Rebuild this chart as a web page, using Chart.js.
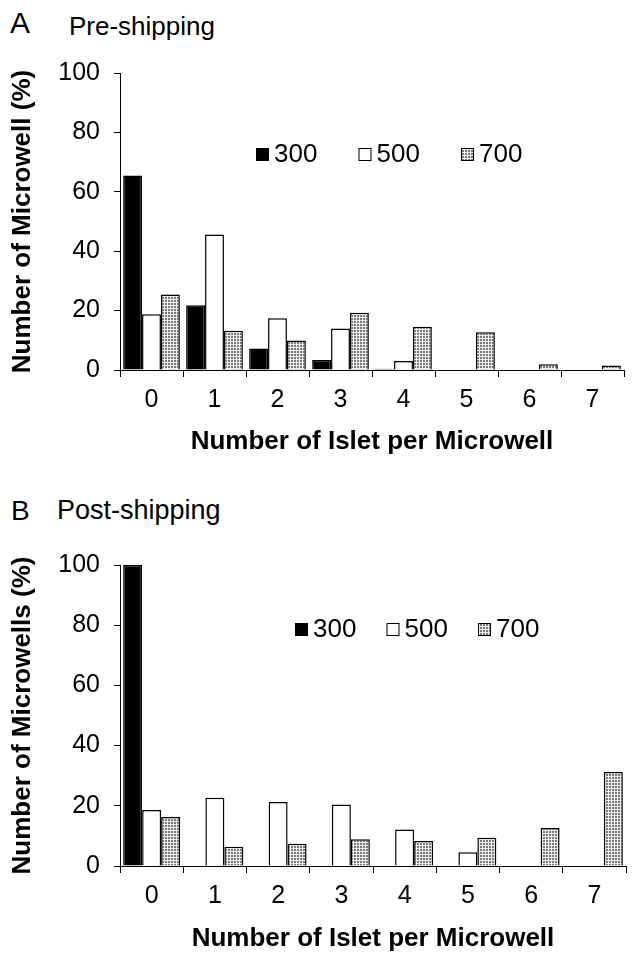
<!DOCTYPE html>
<html>
<head>
<meta charset="utf-8">
<script src="https://cdn.jsdelivr.net/npm/chart.js@4"></script>
<style>
  body { margin: 0; background: #fff; }
  #page { position: relative; width: 638px; height: 954px; font-family: "Liberation Sans", Arial, sans-serif; color: #000; }
  .box { position: absolute; left: 0; width: 638px; height: 477px; }
  .lbl { position: absolute; white-space: nowrap; }
</style>
</head>
<body>
<div id="page">
  <div class="lbl" style="left:10px; top:8px; font-size:30px; line-height:30px;">A</div>
  <div class="lbl" style="left:69px; top:13px; font-size:26px; line-height:26px;">Pre-shipping</div>
  <div class="lbl" style="left:11px; top:497px; font-size:28px; line-height:28px;">B</div>
  <div class="lbl" style="left:57px; top:497px; font-size:27px; line-height:27px;">Post-shipping</div>
  <div class="box" style="top:0;"><canvas id="chartA" width="638" height="477"></canvas></div>
  <div class="box" style="top:477px;"><canvas id="chartB" width="638" height="477"></canvas></div>
</div>
<script>
// Number of islets per microwell
const categories = ['0', '1', '2', '3', '4', '5', '6', '7'];
const seriesNames = ['300', '500', '700'];

// Pre-shipping (%)
const pre300 = [65.5, 21.8, 7.2, 3.4, 0.4, 0, 0, 0];
const pre500 = [18.8, 45.6, 17.4, 14.0, 3.0, 0, 0, 0];
const pre700 = [25.4, 13.2, 9.9, 19.3, 14.6, 12.7, 1.9, 1.5];

// Post-shipping (%)
const post300 = [100, 0, 0, 0, 0, 0, 0, 0];
const post500 = [18.6, 22.7, 21.3, 20.4, 12.1, 4.6, 0, 0];
const post700 = [16.3, 6.4, 7.4, 8.9, 8.3, 9.4, 12.6, 31.2];

const yMin = 0, yMax = 100, yStep = 20;

const FONT = '"Liberation Sans", Arial, sans-serif';

function dotPattern(ctx) {
    const c = document.createElement('canvas');
    c.width = 3; c.height = 3;
    const g = c.getContext('2d');
    g.fillStyle = '#eeeeee';
    g.fillRect(0, 0, 3, 3);
    g.fillStyle = '#7a7a7a';
    g.fillRect(0, 0, 2, 2);
    return ctx.createPattern(c, 'repeat');
}

// legend drawn inside the plot area
const insideLegend = {
    id: 'insideLegend',
    afterDraw(chart, args, opts) {
        const { ctx, chartArea } = chart;
        ctx.save();
        ctx.font = '26px ' + FONT;
        ctx.textBaseline = 'middle';
        chart.data.datasets.forEach((ds, i) => {
            const x = chartArea.left + opts.x + i * opts.step;
            const y = chartArea.top + opts.y;
            ctx.fillStyle = ds.backgroundColor;
            ctx.fillRect(x, y - 6, 13, 13);
            ctx.strokeStyle = '#000';
            ctx.lineWidth = 1;
            ctx.strokeRect(x + 0.5, y - 5.5, 12, 12);
            ctx.fillStyle = '#000';
            ctx.fillText(ds.label, x + 18, y + 1);
        });
        ctx.restore();
    }
};

function makeChart(id, values, cfg) {
    const ctx = document.getElementById(id).getContext('2d');
    const fills = ['#000000', '#ffffff', dotPattern(ctx)];
    return new Chart(ctx, {
        type: 'bar',
        data: {
            labels: categories,
            datasets: values.map((v, i) => ({
                label: seriesNames[i],
                data: v,
                backgroundColor: fills[i],
                borderColor: '#000',
                borderWidth: 1.5,
                borderSkipped: 'start'
            }))
        },
        options: {
            responsive: false,
            animation: false,
            devicePixelRatio: 1,
            categoryPercentage: 0.9,
            barPercentage: 1.0,
            layout: { padding: { top: cfg.top, right: cfg.right, left: 0, bottom: 0 } },
            plugins: {
                legend: { display: false },
                tooltip: { enabled: false },
                insideLegend: cfg.legend
            },
            scales: {
                x: {
                    grid: { display: true, drawOnChartArea: false, drawTicks: true, tickLength: 7, color: '#000', lineWidth: 1, offset: true },
                    border: { display: true, color: '#000', width: 1 },
                    ticks: { color: '#000', font: { family: FONT, size: 25 }, padding: 8, maxRotation: 0 },
                    title: { display: true, text: 'Number of Islet per Microwell', color: '#000',
                             font: { family: FONT, size: 26, weight: 'bold' }, padding: { top: 0, bottom: cfg.xTitlePad } },
                    afterFit: s => { s.height = cfg.xHeight; }
                },
                y: {
                    min: yMin, max: yMax,
                    grid: { display: true, drawOnChartArea: false, drawTicks: true, tickLength: 6, color: '#000', lineWidth: 1 },
                    border: { display: true, color: '#000', width: 1 },
                    ticks: { stepSize: yStep, color: '#000', font: { family: FONT, size: 25 }, padding: 14 },
                    title: { display: true, text: cfg.yTitle, color: '#000',
                             font: { family: FONT, size: 26, weight: 'bold' }, padding: { top: 7, bottom: 0 } },
                    afterFit: s => { s.width = 120; }
                }
            }
        },
        plugins: [insideLegend]
    });
}

makeChart('chartA', [pre300, pre500, pre700], {
    top: 73, right: 14, xHeight: 107, xTitlePad: 20,
    yTitle: 'Number of Microwell (%)',
    legend: { x: 136, y: 81, step: 102.5 }
});

makeChart('chartB', [post300, post500, post700], {
    top: 88, right: 12, xHeight: 88, xTitlePad: 0,
    yTitle: 'Number of Microwells (%)',
    legend: { x: 175, y: 64, step: 91.5 }
});
</script>
</body>
</html>
